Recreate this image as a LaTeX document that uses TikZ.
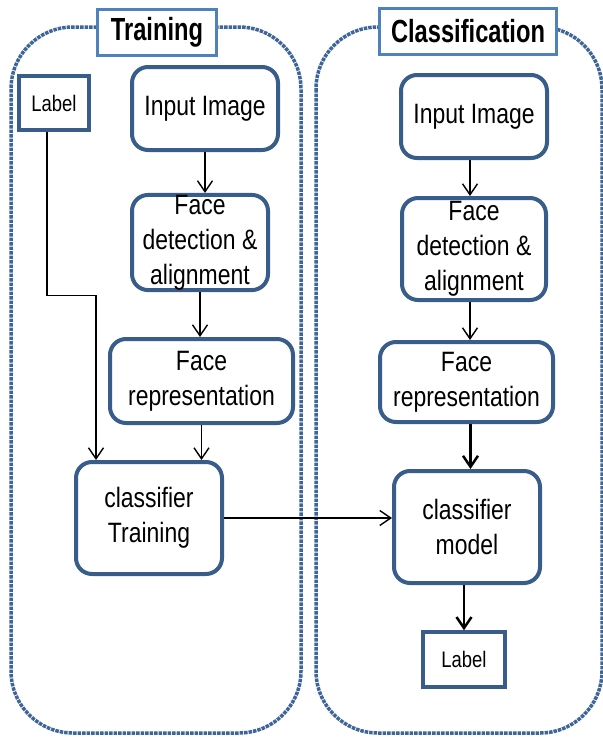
\documentclass[tikz,border=0pt]{standalone}
\usepackage{fontspec}
\setmainfont{Liberation Sans}[FakeStretch=0.82]
\newfontfamily\titlefont{Liberation Sans}[FakeStretch=0.74]
\usepackage{tikz}
\usetikzlibrary{positioning}
\usetikzlibrary{arrows.meta}
\definecolor{boxblue}{RGB}{56,93,138}
\definecolor{titleblue}{RGB}{79,129,189}
\definecolor{dotblue}{RGB}{62,101,152}

\begin{document}
\begin{tikzpicture}[x=1pt, y=-1pt,
    stage/.style={draw=boxblue, line width=4pt, rounded corners=16pt, fill=white, align=center, inner sep=0pt, font=\fontsize{28}{35}\selectfont},
    labelbox/.style={draw=boxblue, line width=3.5pt, fill=white, inner sep=0pt, font=\fontsize{22.5}{26}\selectfont},
    titlebox/.style={draw=titleblue, line width=3pt, fill=white, inner sep=0pt, font=\titlefont\bfseries\fontsize{32}{36}\selectfont},
    panel/.style={draw=dotblue, line width=3.5pt, densely dotted, rounded corners=62pt},
    flow/.style={draw, line width=1.4pt, -{Straight Barb[length=11pt, width=15pt]}},
    flowthick/.style={flow, line width=2.5pt}]

    \useasboundingbox (0,0) rectangle (603,737);

    % draw the two dotted panels
    \path[panel] (11,27) rectangle (301,733);
    \path[panel] (316,27) rectangle (602,733);

    \node[titlebox, minimum width=119, minimum height=46] (ttlL) at (157,32.5) {Training};
    \node[titlebox, minimum width=177, minimum height=46] (ttlR) at (468,31.5) {Classification};

    % training side
    \node[labelbox, minimum width=70, minimum height=54] (labL) at (54,103) {Label};
    \node[stage, minimum width=146, minimum height=83] (inL) at (205,108.5) {Input Image};
    \node[stage, minimum width=136, minimum height=95] (detL) at (200,242.5) {Face\\detection \&\\alignment};
    \node[stage, minimum width=183, minimum height=84] (repL) at (201.5,381) {Face\\representation};
    \node[stage, minimum width=146, minimum height=112] (trnL) at (149,518) {classifier\\Training};

    % classification side
    \node[stage, minimum width=146, minimum height=83] (inR) at (474,116.5) {Input Image};
    \node[stage, minimum width=144, minimum height=102] (detR) at (474,249) {Face\\detection \&\\alignment};
    \node[stage, minimum width=173, minimum height=80] (repR) at (466.5,382) {Face\\representation};
    \node[stage, minimum width=146, minimum height=112] (mdlR) at (467,527) {classifier\\model};
    \node[labelbox, minimum width=82, minimum height=55] (labR) at (464,659.5) {Label};

    % draw the arrows
    \path[flow] (inL.south) -- (inL.south |- detL.north);
    \path[flow] (detL.south) -- (detL.south |- repL.north);
    \path[flow] (repL.south) -- (repL.south |- trnL.north);
    \path[flow] ([xshift=-7pt]labL.south) -- ++(0,164) -| ([xshift=-53pt]trnL.north);

    \coordinate (midC) at (333,518);
    \path[draw, line width=2.6pt] (trnL.east) -- (midC);
    \path[flow] (midC) -- (midC -| mdlR.west);

    \path[flow] ([xshift=-4pt]inR.south) -- ([xshift=-4pt]inR.south |- detR.north);
    \path[flow] ([xshift=-4pt]detR.south) -- ([xshift=-4pt]detR.south |- repR.north);
    \path[flowthick] ([xshift=4pt]repR.south) -- ([xshift=4pt]repR.south |- mdlR.north);
    \path[flowthick] ([xshift=-3pt]mdlR.south) -- ([xshift=-3pt]mdlR.south |- labR.north);

\end{tikzpicture}
\end{document}
